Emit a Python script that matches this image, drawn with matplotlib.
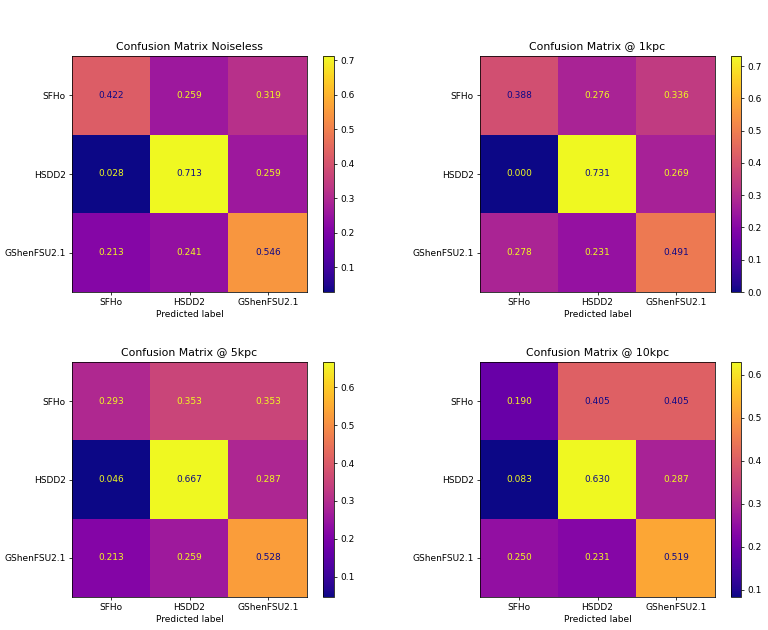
import numpy as np
import matplotlib
matplotlib.use("Agg")
import matplotlib.pyplot as plt

labels = ["SFHo", "HSDD2", "GShenFSU2.1"]
titles = ["Confusion Matrix Noiseless", "Confusion Matrix @ 1kpc",
          "Confusion Matrix @ 5kpc", "Confusion Matrix @ 10kpc"]

cm_noiseless = [[0.422, 0.259, 0.319],
                [0.028, 0.713, 0.259],
                [0.213, 0.241, 0.546]]
cm_1kpc = [[0.388, 0.276, 0.336],
           [0.000, 0.731, 0.269],
           [0.278, 0.231, 0.491]]
cm_5kpc = [[0.293, 0.353, 0.353],
           [0.046, 0.667, 0.287],
           [0.213, 0.259, 0.528]]
cm_10kpc = [[0.190, 0.405, 0.405],
            [0.083, 0.630, 0.287],
            [0.250, 0.231, 0.519]]

matrices = [cm_noiseless, cm_1kpc, cm_5kpc, cm_10kpc]

fs = 6.5
plt.rcParams.update({
    "font.size": fs,
    "axes.linewidth": 0.55,
    "xtick.major.width": 0.55,
    "ytick.major.width": 0.55,
    "xtick.major.size": 2.3,
    "ytick.major.size": 2.3,
    "xtick.major.pad": 2.3,
    "ytick.major.pad": 2.3,
})

W, H = 768, 630
fig = plt.figure(figsize=(W / 100, H / 100), dpi=100)
cmap = plt.get_cmap("plasma")

# pixel boxes: (left, top, right, bottom) for axes and colorbars
ax_boxes = [(72, 56, 307, 292), (480, 56, 715, 292),
            (72, 362, 307, 597), (480, 362, 715, 597)]
cb_boxes = [(323, 56, 334, 292), (731, 56, 741, 292),
            (323, 362, 334, 597), (731, 362, 741, 597)]

def rect(b):
    l, t, r, bt = b
    return [l / W, 1 - bt / H, (r - l) / W, (bt - t) / H]

for m, title, ab, cb in zip(matrices, titles, ax_boxes, cb_boxes):
    m = np.array(m)
    ax = fig.add_axes(rect(ab))
    im = ax.imshow(m, cmap=cmap, interpolation="nearest", aspect="auto")
    vmin, vmax = m.min(), m.max()
    thresh = (vmin + vmax) / 2.0
    for i in range(3):
        for j in range(3):
            c = cmap(0.0) if m[i, j] >= thresh else cmap(1.0)
            ax.text(j, i, f"{m[i, j]:.3f}", ha="center", va="center",
                    color=c, fontsize=fs)
    ax.set_xticks(range(3))
    ax.set_xticklabels(labels)
    ax.set_yticks(range(3))
    ax.set_yticklabels(labels)
    ax.set_xlabel("Predicted label", fontsize=fs, labelpad=2)
    ax.set_title(title, fontsize=7.8, pad=4)
    cax = fig.add_axes(rect(cb))
    cbar = fig.colorbar(im, cax=cax)
    cbar.outline.set_linewidth(0.55)
    cbar.ax.tick_params(labelsize=fs, width=0.55, length=2.3)

fig.savefig("out.png", dpi=100)
